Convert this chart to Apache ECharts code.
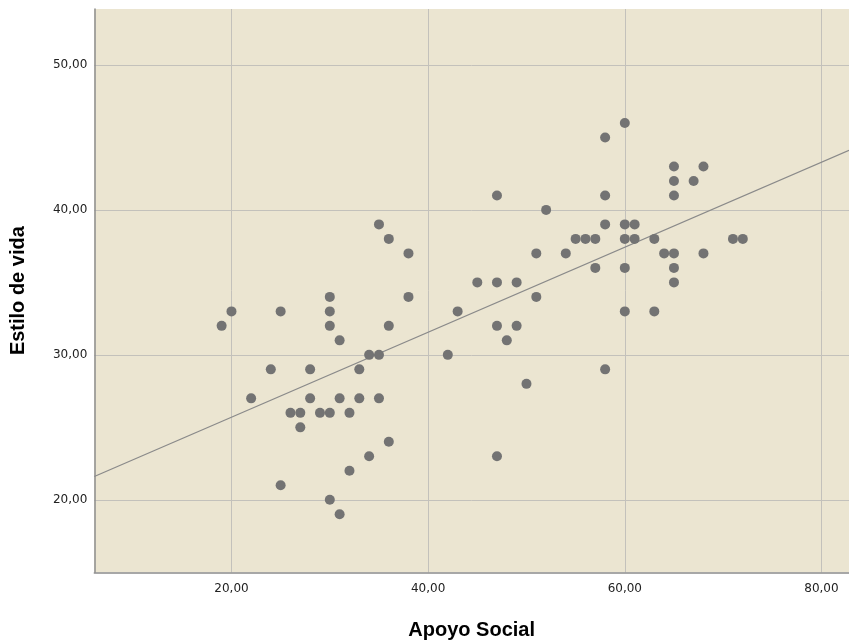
<!DOCTYPE html>
<html>
<head>
<meta charset="utf-8">
<title>Estilo de vida vs Apoyo Social</title>
<script src="https://cdn.jsdelivr.net/npm/echarts@6/dist/echarts.min.js"></script>
<style>
  html, body { margin: 0; padding: 0; background: #ffffff; }
  #chart { width: 849px; height: 642px; }
</style>
</head>
<body>
<div id="chart"></div>
<script>
// Apoyo Social (x) and Estilo de vida (y) for each respondent
const apoyoSocial = [
  19, 20, 22, 24, 25, 25, 26, 27, 27, 28, 28, 29, 30, 30, 30, 30, 30,
  31, 31, 31, 32, 32, 33, 33, 34, 34, 35, 35, 35, 36, 36, 36, 38, 38,
  42, 43, 45, 47, 47, 47, 47, 48, 49, 49, 50, 51, 51, 52, 54, 55, 56,
  57, 57, 58, 58, 58, 58, 60, 60, 60, 60, 60, 61, 61, 63, 63, 64, 65,
  65, 65, 65, 65, 65, 67, 68, 68, 71, 72
];
const estiloDeVida = [
  32, 33, 27, 29, 33, 21, 26, 26, 25, 29, 27, 26, 34, 33, 32, 26, 20,
  31, 27, 19, 26, 22, 29, 27, 30, 23, 39, 30, 27, 38, 32, 24, 37, 34,
  30, 33, 35, 41, 35, 32, 23, 31, 35, 32, 28, 37, 34, 40, 37, 38, 38,
  38, 36, 45, 41, 39, 29, 46, 39, 38, 36, 33, 39, 38, 38, 33, 37, 43,
  42, 41, 37, 36, 35, 42, 43, 37, 38, 38
];

// Linear fit line: Estilo de vida = fitIntercept + fitSlope * Apoyo Social
const fitIntercept = 19.84;
const fitSlope = 0.2932;

// Axis ranges and tick values
const xMin = 6.05, xMax = 82.8;
const yMin = 15.0, yMax = 53.86;
const xTicks = [20, 40, 60, 80];
const yTicks = [20, 30, 40, 50];

const points = apoyoSocial.map((x, i) => [x, estiloDeVida[i]]);
const fitLine = [xMin, xMax].map(x => [x, fitIntercept + fitSlope * x]);

const fmt = v => Number(v).toFixed(2).replace('.', ',');
const TITLE_FONT = '"Liberation Sans", Arial, sans-serif';
const TICK_FONT = '"DejaVu Sans", Verdana, sans-serif';

const chart = echarts.init(document.getElementById('chart'), null, { renderer: 'canvas' });
chart.setOption({
  animation: false,
  backgroundColor: '#ffffff',
  grid: {
    left: 94.3, right: 0, top: 9, bottom: 69.7,
    outerBoundsMode: 'none', containLabel: false,
    show: true, backgroundColor: '#EBE5D1', borderWidth: 0
  },
  xAxis: {
    type: 'value', min: xMin, max: xMax,
    name: 'Apoyo Social', nameLocation: 'middle', nameGap: 48,
    nameTextStyle: { fontFamily: TITLE_FONT, fontSize: 20, fontWeight: 'bold', color: '#000' },
    axisLine: { show: true, onZero: false, lineStyle: { color: '#8c8c8c', width: 1.5 } },
    axisTick: { show: false, customValues: xTicks },
    axisLabel: { customValues: xTicks, formatter: fmt, margin: 11,
      fontFamily: TICK_FONT, fontSize: 12, color: '#222' },
    splitLine: { show: true, lineStyle: { color: '#c3c1bb', width: 1 } }
  },
  yAxis: {
    type: 'value', min: yMin, max: yMax,
    name: 'Estilo de vida', nameLocation: 'middle', nameGap: 66, nameRotate: 90,
    nameTextStyle: { fontFamily: TITLE_FONT, fontSize: 20, fontWeight: 'bold', color: '#000' },
    axisLine: { show: true, onZero: false, lineStyle: { color: '#8c8c8c', width: 1.5 } },
    axisTick: { show: false, customValues: yTicks },
    axisLabel: { customValues: yTicks, formatter: fmt, margin: 7,
      fontFamily: TICK_FONT, fontSize: 12, color: '#222' },
    splitLine: { show: true, lineStyle: { color: '#c3c1bb', width: 1 } }
  },
  series: [
    {
      name: 'Ajuste lineal', type: 'line', data: fitLine,
      symbol: 'none', silent: true, z: 2,
      lineStyle: { color: '#8a8a8a', width: 1.2 }
    },
    {
      name: 'Casos', type: 'scatter', data: points,
      symbol: 'circle', symbolSize: 10, z: 3,
      itemStyle: { color: '#737373', opacity: 1 }
    }
  ]
});
</script>
</body>
</html>
